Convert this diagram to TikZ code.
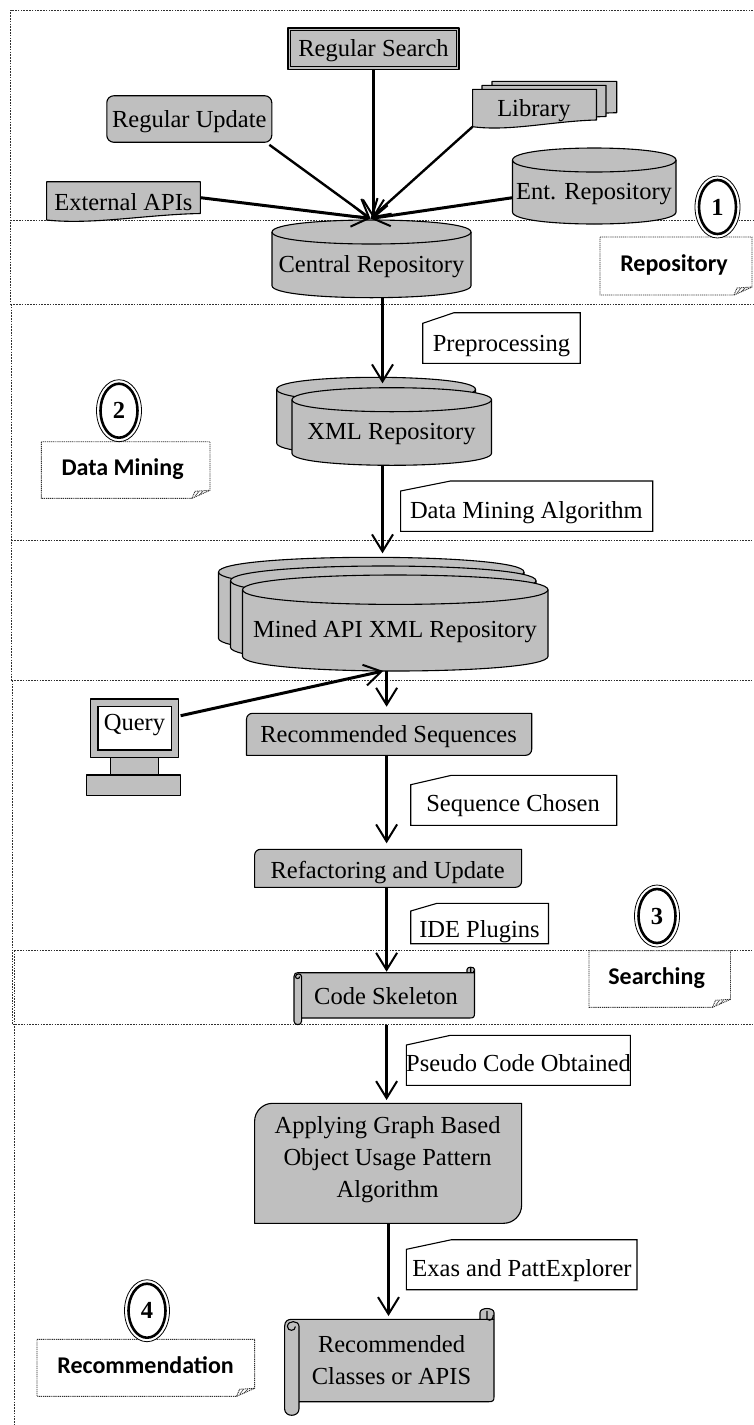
\documentclass[tikz,border=0pt]{standalone}
\usepackage{fontspec}
\setmainfont{Liberation Serif}
\newfontfamily\notefont{Carlito}
\usetikzlibrary{arrows.meta,calc,shapes.geometric}
\definecolor{shapegray}{HTML}{BFBFBF}
\definecolor{dotgray}{HTML}{303030}
\tikzset{
  x=1pt,y=-1pt,
  outline/.style={draw=black,line width=1.1pt,fill=shapegray,line join=round},
  whiteline/.style={draw=black,line width=1.1pt,fill=white,line join=miter},
  frameline/.style={draw=dotgray,line width=0.8pt,dash pattern=on 1.6pt off 1.2pt},
  notedot/.style={draw=dotgray,line width=0.9pt,dash pattern=on 1.1pt off 0.8pt,fill=white},
  anchorbox/.style={rectangle,inner sep=0pt,outer sep=0pt},
  txt/.style={inner sep=0pt,font=\fontsize{24.5}{32}\selectfont,align=center,text height=16pt,text depth=0pt},
  multi/.style={inner sep=0pt,font=\fontsize{24.5}{32}\selectfont,align=center},
  ntxt/.style={inner sep=0pt,font=\notefont\bfseries\fontsize{24}{28}\selectfont,text height=15pt,text depth=0pt},
  numtxt/.style={inner sep=0pt,font=\bfseries\fontsize{24.5}{30}\selectfont},
  arr/.style={line width=2.4pt,-{Straight Barb[length=17pt,width=21pt,line width=2pt]}},
  arrthick/.style={line width=3pt,-{Straight Barb[length=17pt,width=21pt,line width=2pt]}},
}
% x1 x2 top bottom ry
\newcommand\cylshape[5]{%
  \pgfmathsetmacro{\cyc}{#3+#5}%
  \pgfmathsetmacro{\cyd}{#4-#5}%
  \pgfmathsetmacro{\cyu}{#3+#5-1.333*#5}%
  \pgfmathsetmacro{\cyv}{#3+#5+1.333*#5}%
  \pgfmathsetmacro{\cyw}{#4-#5+1.333*#5}%
  \path[outline] (#1,\cyc) -- (#1,\cyd) .. controls (#1,\cyw) and (#2,\cyw) .. (#2,\cyd) -- (#2,\cyc) .. controls (#2,\cyu) and (#1,\cyu) .. (#1,\cyc) -- cycle;
  \draw[line width=1.1pt] (#1,\cyc) .. controls (#1,\cyv) and (#2,\cyv) .. (#2,\cyc);
}
\newcommand\anch[5]{\node[anchorbox,minimum width={(#4-#2)*1pt},minimum height={(#5-#3)*1pt}] (#1) at ({(#2+#4)/2},{(#3+#5)/2}) {};}
% x1 y1 x2 y2 r : rounded top-left and bottom-right
\newcommand\tlbr[5]{%
  \path[outline] (#1,{#2+#5}) .. controls (#1,{#2+.45*#5}) and ({#1+.45*#5},#2) .. ({#1+#5},#2) -- (#3,#2) -- (#3,{#4-#5}) .. controls (#3,{#4-.45*#5}) and ({#3-.45*#5},#4) .. ({#3-#5},#4) -- (#1,#4) -- cycle;
}
% x1 y1 x2 y2(left bottom) : wavy document; #5 right-bottom y
\newcommand\docshape[5]{%
  \path[outline] (#1,#2) -- (#3,#2) -- (#3,#5) .. controls ({#3-.35*(#3-#1)},{#5+1}) and ({#1+.3*(#3-#1)},{#4+5}) .. (#1,#4) -- cycle;
}
% x1 y1 x2 y2 ycut xcut
\newcommand\snipnote[6]{%
  \path[whiteline] (#6,#2) -- (#3,#2) -- (#3,#4) -- (#1,#4) -- (#1,#5) -- cycle;
}
% x1 y1 x2 y2 dotted note with fold
\newcommand\dotnote[4]{%
  \path[notedot] (#1,#2) -- (#3,#2) -- (#3,{#4-8}) -- ({#3-18},#4) -- (#1,#4) -- cycle;
  \draw[notedot,fill=none] ({#3-18},#4) -- ({#3-15},{#4-7}) -- (#3,{#4-8});
  \draw[dotgray,line width=0.5pt] ({#3-15},{#4-2}) -- ({#3-11},{#4-7}) ({#3-11},{#4-3}) -- ({#3-7},{#4-7});
}
% x0 x1 xc x2 y0 yt yb yB : scroll
\newcommand\scrollshape[8]{%
  \pgfmathsetmacro{\srw}{(#2-#1)/2}%
  \pgfmathsetmacro{\srv}{(#4-#3)/2}%
  \path[outline] ({#1+\srw},#6) -- (#3,#6) -- (#3,{#5+\srv}) .. controls (#3,{#5+.2*\srv}) and (#4,{#5+.2*\srv}) .. (#4,{#5+\srv}) -- (#4,{#7-5}) .. controls (#4,{#7-1}) and ({#4-1},#7) .. ({#4-5},#7) -- (#2,#7) -- (#2,{#8-\srw}) .. controls (#2,{#8+.2*\srw}) and (#1,{#8+.2*\srw}) .. (#1,{#8-\srw}) -- (#1,{#6+\srw}) .. controls (#1,{#6+.2*\srw}) and ({#1+.5*\srw},#6) .. ({#1+\srw},#6) -- cycle;
  \draw[line width=1.1pt] (#2,#7) -- (#2,{#6+\srw}) .. controls (#2,{#6+.1*\srw}) and ({#1+.4*\srw},{#6+.1*\srw}) .. ({#1+.4*\srw},{#6+\srw}) .. controls ({#1+.4*\srw},{#6+1.7*\srw}) and ({#1+1.5*\srw},{#6+1.7*\srw}) .. ({#1+1.5*\srw},{#6+\srw});
  \draw[line width=1.1pt] (#3,#6) -- (#4,#6) ({#3+\srv},{#6-1.2*\srv}) -- ({#3+\srv},#6) .. controls ({#3+1.6*\srv},{#6+.4*\srv}) and ({#3+1.9*\srv},{#6-.2*\srv}) .. ({#3+1.9*\srv},{#6-.6*\srv});
}
% name cx cy number
\newcommand\badge[4]{%
  \path[draw=black,line width=.8pt,fill=white] (#2,#3) ellipse [x radius=22.5,y radius=31];
  \node[draw=black,line width=2.6pt,fill=white,ellipse,minimum width=37pt,minimum height=54pt,inner sep=0pt,numtxt] (#1) at (#2,#3) {#4};
}
\begin{document}
\begin{tikzpicture}
\useasboundingbox (0,0) rectangle (753,1425);
\fill[white] (0,0) rectangle (753,1425);

% frames
\draw[frameline] (753,10) -- (10.6,10) -- (10.6,304);
\draw[frameline] (10.6,220.7) -- (753,220.7) (10.6,304) -- (753,304);
\draw[frameline] (11.5,304) -- (11.5,680.7);
\draw[frameline] (11.5,540.7) -- (753,540.7) (11.5,680.7) -- (753,680.7);
\draw[frameline] (12.5,680.7) -- (12.5,1024.7);
\draw[frameline] (14.4,950.7) -- (753,950.7) (12.5,1024.7) -- (753,1024.7) (14.4,950.7) -- (14.4,1425);

% Regular Search
\node[outline,minimum width=171pt,minimum height=41.5pt,inner sep=0pt,line width=1.5pt,txt] (search) at (373.5,48.5) {Regular Search};
\draw[line width=1.3pt] (290.5,30.5) rectangle (456.5,66.5);

% Regular Update
\node[outline,rounded corners=7pt,minimum width=165pt,minimum height=46.5pt,inner sep=0pt,txt] (update) at (189.3,119) {Regular Update};

% Library
\docshape{492}{81.3}{616.7}{116}{112.7}
\docshape{482}{85.3}{606}{122}{116.5}
\docshape{472.6}{89.3}{596.5}{126.7}{120}
\anch{library}{472.6}{81.3}{616.7}{128}
\node[txt] (library-label) at (534,108.5) {Library};

% Ent repository
\cylshape{512.5}{676}{148}{224}{12}
\anch{ent}{512.5}{148}{676}{224}
\node[txt] (ent-label) at (594,191) {Ent. Repository};

% External APIs
\docshape{46.6}{181.7}{200.3}{220}{213.5}
\anch{extapi}{46.6}{181.7}{200.3}{222}
\node[txt] (extapi-label) at (123.4,202) {External APIs};

% Central
\cylshape{272}{471}{220}{297.7}{12}
\anch{central}{272}{220}{471}{297.7}
\node[txt] (central-label) at (371.5,264) {Central Repository};

% Preprocessing
\snipnote{422.7}{312.7}{580.2}{363.3}{323.3}{454}
\node[txt] (prep) at (501.5,343) {Preprocessing};

% XML
\cylshape{276.7}{475.5}{377.3}{455}{12}
\cylshape{292}{491.5}{387.7}{465.3}{12}
\anch{xml}{276.7}{377.3}{491.5}{465.3}
\node[txt] (xml-label) at (391.5,431) {XML Repository};

% Data mining algorithm
\snipnote{400.6}{481}{652.7}{531.3}{491}{450.5}
\node[txt] (dma) at (526.4,510.7) {Data Mining Algorithm};

% Mined
\cylshape{218.5}{524}{557.3}{653}{14.7}
\cylshape{230.5}{536}{566}{662}{14.7}
\cylshape{242.5}{548}{575}{671}{14.7}
\anch{mined}{218.5}{557.3}{548}{671}
\node[txt] (mined-label) at (395,629.5) {Mined API XML Repository};

% Monitor
\anch{monitor}{86.5}{699}{180.6}{795.7}
\path[outline] (110.5,757.3) rectangle (158.5,775);
\path[outline] (86.5,775) rectangle (180.6,795.7);
\path[outline] (90.3,699) rectangle (178.7,757.3);
\node[whiteline,minimum width=73.5pt,minimum height=43.3pt,inner sep=0pt] (query) at (134.75,728.3) {};
\node[txt] (query-label) at (134.5,722) {Query};

% Recommended sequences
\tlbr{246.5}{713.3}{531.7}{755.3}{6}
\anch{recseq}{246.5}{713.3}{531.7}{755.3}
\node[txt] (recseq-label) at (388.6,734.5) {Recommended Sequences};

% Sequence chosen
\snipnote{410.7}{775.3}{616.7}{825.3}{784.7}{451.5}
\node[txt] (seqch) at (513,803.5) {Sequence Chosen};

% Refactoring
\tlbr{254.6}{849.3}{521.6}{887.3}{6}
\anch{refac}{254.6}{849.3}{521.6}{887.3}
\node[txt] (refac-label) at (387.6,870) {Refactoring and Update};

% IDE plugins
\snipnote{410.7}{903.3}{548.5}{943.7}{911}{437}
\node[txt] (ide) at (479.5,929) {IDE Plugins};

% Code skeleton
\scrollshape{294}{301.6}{467}{474.5}{965.7}{972.7}{1018}{1025}
\anch{code}{294}{965.7}{474.5}{1025}
\node[txt] (code-label) at (386,996) {Code Skeleton};

% Pseudo code
\snipnote{406.4}{1035.3}{630.3}{1085.3}{1045}{450.5}
\node[txt] (pseudo) at (518.5,1063.5) {Pseudo Code Obtained};

% Applying
\tlbr{254.6}{1103.3}{521.6}{1223.3}{18}
\anch{apply}{254.6}{1103.3}{521.6}{1223.3}
\node[multi] (apply-label) at (387.6,1159.5) {Applying Graph Based\\Object Usage Pattern\\Algorithm};

% Exas
\snipnote{406.4}{1239.7}{637}{1289.7}{1249.3}{451.5}
\node[txt] (exas) at (522,1268) {Exas and PattExplorer};

% Classes
\scrollshape{284.6}{299}{480}{494}{1305.7}{1319.3}{1401.7}{1416}
\anch{classes}{284.6}{1305.7}{494}{1416}
\node[multi] (classes-label) at (391.5,1360.5) {Recommended\\Classes or APIS};

% spine references
\coordinate (hub) at (370.5,218.5);
\coordinate (spinea) at (382.5,0);
\coordinate (spineb) at (386.6,0);
\coordinate (spinec) at (388.5,0);

% connectors
\draw[arr] (search.south) -- (search.south |- hub);
\draw[arr] ($(update.south east)+(-3,2)$) -- (hub);
\draw[arr] (library.south west |- 0,126.7) -- (hub);
\draw[arrthick] ($(extapi.east)+(0,-4.2)$) -- (hub);
\draw[arrthick] (ent.west |- 0,197.7) -- (hub);
\draw[arr,shorten >=-6pt] (central.south -| spinea) -- (xml.north -| spinea);
\draw[arr,shorten >=4pt] (xml.south -| spinea) -- (mined.north -| spinea);
\draw[arr,shorten >=6.6pt] (mined.south -| spineb) -- (recseq.north -| spineb);
\draw[arrthick] (monitor.north east |- 0,715.7) -- (mined.south);
\draw[arr,shorten >=6pt] (recseq.south -| spineb) -- (refac.north -| spineb);
\draw[arr,shorten >=-6pt] (refac.south -| spineb) -- (code.north -| spineb);
\draw[arr,shorten >=3.3pt] (code.south -| spineb) -- (apply.north -| spineb);
\draw[arr,shorten >=-10.3pt] (apply.south -| spinec) -- (classes.north -| spinec);

% badges and notes
\dotnote{600}{237}{752}{295}
\node[ntxt] (repo-note) at (674,264) {Repository};
\badge{one}{717.5}{207}{1}

\dotnote{41.3}{441.7}{210}{498.3}
\node[ntxt] (dm-note) at (122.6,467.7) {Data Mining};
\badge{two}{119}{410.7}{2}

\dotnote{589}{950.7}{730.5}{1007.3}
\node[ntxt] (search-note) at (656.6,976.7) {Searching};
\badge{three}{657}{916}{3}

\dotnote{37}{1339.3}{254.6}{1396.3}
\node[ntxt] (rec-note) at (145.6,1365.7) {Recommendation};
\badge{four}{147}{1310.7}{4}
\end{tikzpicture}
\end{document}
